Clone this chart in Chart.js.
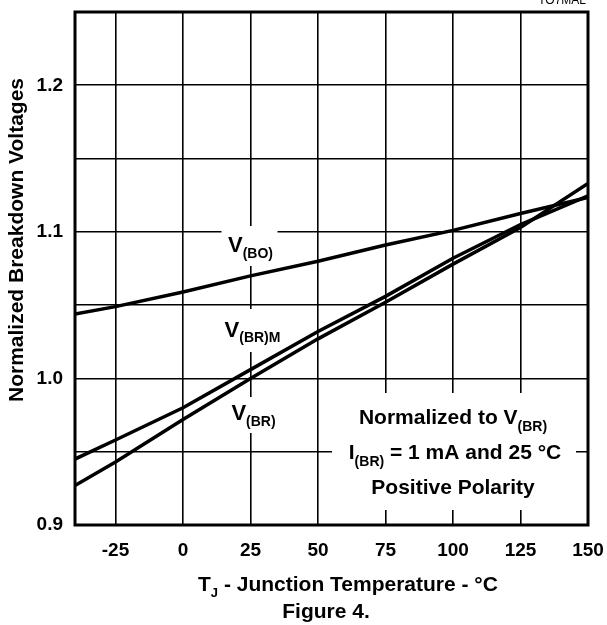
<!DOCTYPE html>
<html>
<head>
<meta charset="utf-8">
<script src="https://cdn.jsdelivr.net/npm/chart.js@4.4.0/dist/chart.umd.min.js"></script>
<style>
  body { margin: 0; background: #fff; }
  canvas { display: block; }
</style>
</head>
<body>
<canvas id="chartFig4" width="607" height="625"></canvas>
<script>
var FONT = '"Liberation Sans", Arial, Helvetica, sans-serif';

// junction temperature (°C) and normalized voltages
var tempC = [-40, -25, 0, 25, 50, 75, 100, 125, 150];
var vBO  = [1.044, 1.049, 1.059, 1.070, 1.080, 1.091, 1.101, 1.1125, 1.1235];
var vBRM = [0.945, 0.958, 0.980, 1.006, 1.032, 1.056, 1.082, 1.105, 1.1245];
var vBR  = [0.927, 0.943, 0.972, 1.000, 1.027, 1.052, 1.078, 1.103, 1.133];

var xTicks = [-25, 0, 25, 50, 75, 100, 125, 150];
var yGrid = [0.9, 0.95, 1.0, 1.05, 1.1, 1.15, 1.2, 1.25];
var yLabels = [0.9, 1.0, 1.1, 1.2];

function toPoints(ys) {
    return tempC.map(function (t, i) { return {x: t, y: ys[i]}; });
}

function curve(label, ys) {
    return {
        label: label,
        data: toPoints(ys),
        borderColor: '#000',
        borderWidth: 3.5,
        pointRadius: 0,
        tension: 0,
        fill: false
    };
}

// draws text made of [text, size, dy] pieces, e.g. V with a subscript
function drawParts(ctx, parts, x, y, align) {
    var total = 0;
    parts.forEach(function (p) {
        ctx.font = 'bold ' + p[1] + 'px ' + FONT;
        total += ctx.measureText(p[0]).width;
    });
    var cx = x;
    if (align == 'center') cx = x - total / 2;
    if (align == 'right') cx = x - total;
    ctx.textAlign = 'left';
    ctx.textBaseline = 'alphabetic';
    parts.forEach(function (p) {
        ctx.font = 'bold ' + p[1] + 'px ' + FONT;
        ctx.fillText(p[0], cx, y + (p[2] || 0));
        cx += ctx.measureText(p[0]).width;
    });
}

function noScalePadding(s) {
    s.paddingTop = 0;
    s.paddingBottom = 0;
    s.paddingLeft = 0;
    s.paddingRight = 0;
}

var figurePlugin = {
    id: 'figurePlugin',
    beforeDatasetsDraw: function (chart) {
        var ctx = chart.ctx;
        var xs = chart.scales.x;
        var x25 = xs.getPixelForValue(25);
        var x100 = xs.getPixelForValue(100);
        ctx.save();
        ctx.fillStyle = '#fff';
        // gaps in the grid behind the curve labels
        ctx.fillRect(x25 - 29, 226, 56, 40);
        ctx.fillRect(x25 - 24, 309, 52, 43);
        ctx.fillRect(x25 - 21, 397, 48, 36);
        ctx.fillRect(x100 - 121, 393, 244, 117);
        ctx.restore();
    },
    afterDatasetsDraw: function (chart) {
        var ctx = chart.ctx;
        var a = chart.chartArea;
        var xs = chart.scales.x;
        var x25 = xs.getPixelForValue(25);
        var x100 = xs.getPixelForValue(100);
        ctx.save();
        ctx.strokeStyle = '#000';
        ctx.lineWidth = 3;
        ctx.strokeRect(a.left, a.top, a.right - a.left, a.bottom - a.top);

        ctx.fillStyle = '#000';
        drawParts(ctx, [['V', 22, 0], ['(BO)', 14, 6]], x25, 252, 'center');
        drawParts(ctx, [['V', 22, 0], ['(BR)M', 14, 5]], x25 + 2, 337, 'center');
        drawParts(ctx, [['V', 22, 0], ['(BR)', 14, 6]], x25 + 3, 420, 'center');

        drawParts(ctx, [['Normalized to V', 21, 0], ['(BR)', 14, 7]], x100, 424, 'center');
        drawParts(ctx, [['I', 21, 0], ['(BR)', 14, 7], [' = 1 mA and 25 \u00B0C', 21, 0]], x100 + 2, 459, 'center');
        drawParts(ctx, [['Positive Polarity', 21, 0]], x100, 494, 'center');

        // axis titles
        drawParts(ctx, [['T', 21, 0], ['J', 13, 6], [' - Junction Temperature - \u00B0C', 21, 0]], 198, 591, 'left');
        drawParts(ctx, [['Figure 4.', 21, 0]], 326, 618, 'center');

        ctx.save();
        ctx.translate(23, 240);
        ctx.rotate(-Math.PI / 2);
        drawParts(ctx, [['Normalized Breakdown Voltages', 21, 0]], 0, 0, 'center');
        ctx.restore();

        ctx.font = '12px ' + FONT;
        ctx.textAlign = 'right';
        ctx.fillText('TO7MAL', 586, 4);
        ctx.restore();
    }
};

new Chart(document.getElementById('chartFig4'), {
    type: 'line',
    data: {
        datasets: [
            curve('V(BO)', vBO),
            curve('V(BR)M', vBRM),
            curve('V(BR)', vBR)
        ]
    },
    options: {
        responsive: false,
        animation: false,
        layout: {padding: {left: 0, right: 19, top: 12, bottom: 0}},
        plugins: {legend: {display: false}, tooltip: {enabled: false}},
        scales: {
            x: {
                type: 'linear',
                min: -40,
                max: 150,
                afterBuildTicks: function (s) {
                    s.ticks = xTicks.map(function (v) { return {value: v}; });
                },
                afterFit: function (s) { s.height = 100; noScalePadding(s); },
                grid: {color: '#000', lineWidth: 1.6, drawTicks: false},
                border: {display: false},
                ticks: {
                    color: '#000',
                    padding: 14,
                    maxRotation: 0,
                    autoSkip: false,
                    font: {family: FONT, size: 19, weight: 'bold'}
                }
            },
            y: {
                type: 'linear',
                min: 0.9,
                max: 1.25,
                afterBuildTicks: function (s) {
                    s.ticks = yGrid.map(function (v) { return {value: v}; });
                },
                afterFit: function (s) { s.width = 75; noScalePadding(s); },
                grid: {color: '#000', lineWidth: 1.6, drawTicks: false},
                border: {display: false},
                ticks: {
                    color: '#000',
                    padding: 12,
                    autoSkip: false,
                    font: {family: FONT, size: 19, weight: 'bold'},
                    callback: function (v) {
                        var hit = yLabels.some(function (l) { return Math.abs(l - v) < 1e-6; });
                        return hit ? v.toFixed(1) : '';
                    }
                }
            }
        }
    },
    plugins: [figurePlugin]
});
</script>
</body>
</html>
